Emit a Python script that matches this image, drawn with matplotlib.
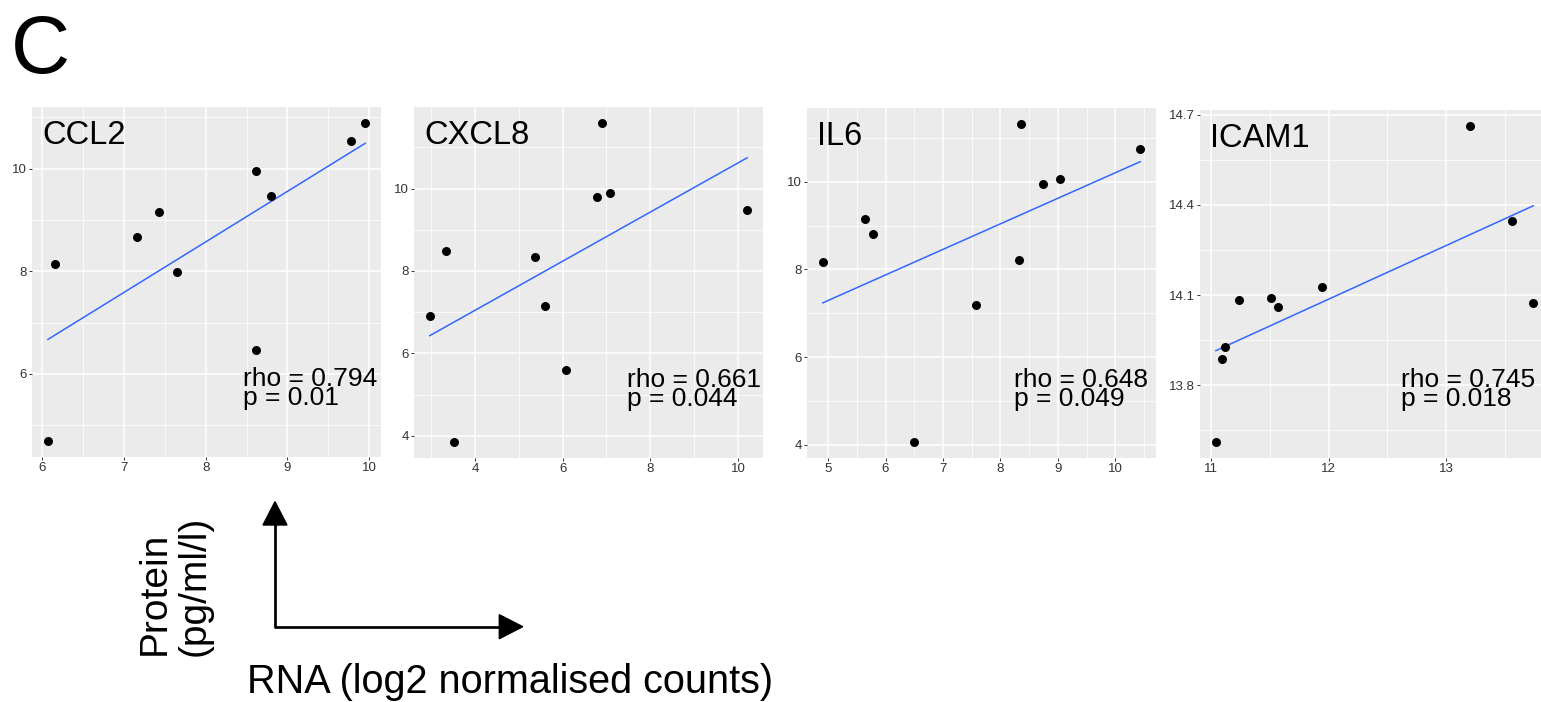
import numpy as np
import matplotlib
matplotlib.use("Agg")
import matplotlib.pyplot as plt
from matplotlib.ticker import MultipleLocator, FormatStrFormatter
from matplotlib.patches import Polygon

plt.rcParams['font.family'] = ['Liberation Sans', 'DejaVu Sans']

# data (RNA log2 counts vs protein)
genes = ['CCL2', 'CXCL8', 'IL6', 'ICAM1']
rho_vals = ['0.794', '0.661', '0.648', '0.745']
p_vals = ['0.01', '0.044', '0.049', '0.018']

ccl2_rna = [6.07, 6.16, 7.16, 7.43, 7.65, 8.62, 8.80, 8.61, 9.78, 9.95]
ccl2_prot = [4.69, 8.14, 8.66, 9.16, 7.98, 9.96, 9.46, 6.47, 10.53, 10.89]

cxcl8_rna = [2.97, 3.34, 3.51, 5.37, 5.59, 6.07, 6.79, 6.90, 7.09, 10.21]
cxcl8_prot = [6.90, 8.48, 3.85, 8.35, 7.15, 5.59, 9.79, 11.59, 9.89, 9.49]

il6_rna = [4.91, 5.64, 5.78, 6.49, 7.58, 8.33, 8.35, 8.74, 9.03, 10.43]
il6_prot = [8.16, 9.16, 8.80, 4.06, 7.19, 8.22, 11.32, 9.94, 10.06, 10.74]

icam1_rna = [11.04, 11.09, 11.12, 11.24, 11.51, 11.57, 11.94, 13.20, 13.56, 13.74]
icam1_prot = [13.611, 13.888, 13.926, 14.084, 14.090, 14.061, 14.126, 14.663, 14.346, 14.073]

rna_all = [ccl2_rna, cxcl8_rna, il6_rna, icam1_rna]
prot_all = [ccl2_prot, cxcl8_prot, il6_prot, icam1_prot]

# layout (pixels in a 1541x702 canvas)
W, H = 1541, 702
panels_px = [(32, 107, 381, 457), (414, 107, 763, 458), (807, 108, 1156, 458), (1200, 110, 1549, 458)]
x_steps = [1, 2, 1, 1]
y_steps = [2, 2, 2, 0.3]
stat_x = [0.605, 0.61, 0.593, 0.576]

fig = plt.figure(figsize=(W / 100, H / 100), dpi=100)

for i, g in enumerate(genes):
    l, t, r, b = panels_px[i]
    ax = fig.add_axes([l / W, 1 - b / H, (r - l) / W, (b - t) / H])
    x = np.array(rna_all[i])
    y = np.array(prot_all[i])

    # ggplot-like 5% expansion
    dx = (x.max() - x.min()) * 0.05
    dy = (y.max() - y.min()) * 0.05
    ax.set_xlim(x.min() - dx, x.max() + dx)
    ax.set_ylim(y.min() - dy, y.max() + dy)

    ax.set_facecolor('#EBEBEB')
    for s in ax.spines.values():
        s.set_visible(False)
    ax.xaxis.set_major_locator(MultipleLocator(x_steps[i]))
    ax.xaxis.set_minor_locator(MultipleLocator(x_steps[i] / 2))
    ax.yaxis.set_major_locator(MultipleLocator(y_steps[i]))
    ax.yaxis.set_minor_locator(MultipleLocator(y_steps[i] / 2))
    ax.yaxis.set_major_formatter(FormatStrFormatter('%g'))
    ax.xaxis.set_major_formatter(FormatStrFormatter('%g'))
    ax.grid(True, which='major', color='white', linewidth=1.1)
    ax.grid(True, which='minor', color='white', linewidth=0.55)
    ax.set_axisbelow(True)
    ax.tick_params(which='major', length=2, width=0.7, color='#333333',
                   labelsize=9.5, labelcolor='#333333', pad=1.5)
    ax.tick_params(which='minor', length=0)

    # linear fit line
    coef = np.polyfit(x, y, 1)
    xs = np.array([x.min(), x.max()])
    ax.plot(xs, np.polyval(coef, xs), color='#3366FF', linewidth=1.1, zorder=2)
    ax.scatter(x, y, s=42, color='black', linewidths=0, zorder=3)

    ax.text(0.03, 0.894, g, transform=ax.transAxes, fontsize=23.5,
            ha='left', va='baseline')
    # baseline anchor is the last line (p value)
    ax.text(stat_x[i], 0.149, f'rho = {rho_vals[i]}\np = {p_vals[i]}',
            transform=ax.transAxes, fontsize=19, ha='left', va='baseline',
            linespacing=0.72)

# overlay for panel letter and axis key
ov = fig.add_axes([0, 0, 1, 1])
ov.set_xlim(0, W)
ov.set_ylim(H, 0)
ov.axis('off')
ov.patch.set_visible(False)

ov.text(11, 73, 'C', fontsize=59, ha='left', va='baseline')

lw = 1.95
ov.plot([275, 275], [626.7, 522], color='black', linewidth=lw, solid_capstyle='butt')
ov.plot([274, 502], [626.7, 626.7], color='black', linewidth=lw, solid_capstyle='butt')
ov.add_patch(Polygon([[263, 525], [287, 525], [275, 501.7]], closed=True, color='black'))
ov.add_patch(Polygon([[499.3, 614.7], [499.3, 638.7], [522.7, 626.7]], closed=True, color='black'))

ov.text(165, 655, 'Protein', rotation=90, rotation_mode='anchor',
        ha='left', va='baseline', fontsize=28)
ov.text(205, 656, '(pg/ml/l)', rotation=90, rotation_mode='anchor',
        ha='left', va='baseline', fontsize=28)
ov.text(247, 693, 'RNA (log2 normalised counts)', ha='left', va='baseline', fontsize=28.5)

fig.savefig('out.png', dpi=100)
